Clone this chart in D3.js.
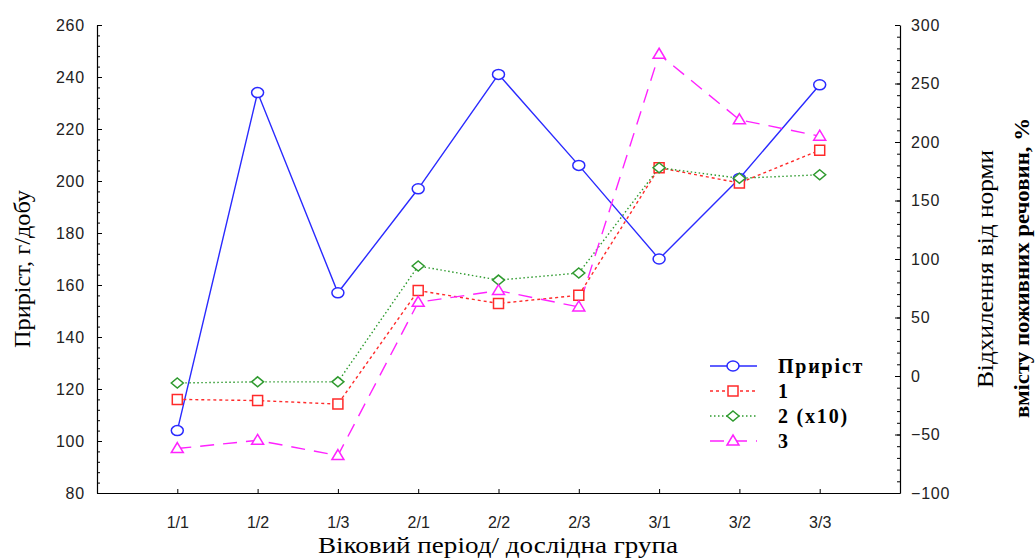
<!DOCTYPE html>
<html lang="uk">
  <head>
    <meta charset="UTF-8" />
    <title>Приріст і відхилення від норми</title>
    <style>
      body { margin: 0; background: #fff; }
      svg { display: block; }
      .tick text { font-family: "Liberation Sans", Arial, sans-serif; font-size: 16px; fill: #222; }
      .ytick .tick text { letter-spacing: 0.8px; }
    </style>
    <script src="https://d3js.org/d3.v7.min.js"></script>
  </head>
  <body>
  <script>
    const categories = ["1/1", "1/2", "1/3", "2/1", "2/2", "2/3", "3/1", "3/2", "3/3"]
    const pryrist = [104, 234, 157, 197, 241, 206, 170, 201, 237]
    const series1 = [-20, -21, -24, 73, 62, 69, 178, 165, 193]
    const series2 = [-6, -5, -5, 94, 82, 88, 178, 169, 172]
    const series3 = [-62, -55, -68, 63, 73, 59, 275, 219, 205]
    const leftTicks = [80, 100, 120, 140, 160, 180, 200, 220, 240, 260]
    const rightTicks = [-100, -50, 0, 50, 100, 150, 200, 250, 300]

    const W = 1036, H = 558
    const plotLeft = 97, plotRight = 900, plotTop = 25, plotBottom = 493

    const svg = d3.select("body").append("svg")
        .attr("width", W).attr("height", H)

    const x = d3.scaleLinear().domain([0, categories.length + 1]).range([plotLeft, plotRight])
    const yL = d3.scaleLinear().domain([80, 260]).range([plotBottom, plotTop])
    const yR = d3.scaleLinear().domain([-100, 300]).range([plotBottom, plotTop])

    const axisStyle = g => {
      g.select(".domain").attr("stroke", "#000").attr("stroke-width", 1.2)
      g.selectAll(".tick line").attr("stroke", "#000")
    }

    // minor ticks (inside the frame)
    svg.append("g").attr("transform", `translate(${plotLeft},0)`)
      .call(d3.axisRight(yL).tickValues(d3.range(80, 261, 4)).tickSize(3).tickFormat(""))
      .call(g => g.select(".domain").remove())
      .selectAll("line").attr("stroke", "#000")
    svg.append("g").attr("transform", `translate(${plotRight},0)`)
      .call(d3.axisLeft(yR).tickValues(d3.range(-100, 301, 10)).tickSize(3).tickFormat(""))
      .call(g => g.select(".domain").remove())
      .selectAll("line").attr("stroke", "#000")

    const gl = svg.append("g").attr("class", "ytick").attr("transform", `translate(${plotLeft},0)`)
      .call(d3.axisLeft(yL).tickValues(leftTicks).tickSize(0).tickSizeOuter(0).tickPadding(12))
      .call(axisStyle)
    gl.selectAll(".tick").append("line").attr("x2", 5).attr("stroke", "#000")

    const gr = svg.append("g").attr("class", "ytick").attr("transform", `translate(${plotRight},0)`)
      .call(d3.axisRight(yR).tickValues(rightTicks).tickSize(0).tickSizeOuter(0).tickPadding(11))
      .call(axisStyle)
    gr.selectAll(".tick").append("line").attr("x2", -5).attr("stroke", "#000")

    const gx = svg.append("g").attr("transform", `translate(0,${plotBottom})`)
      .call(d3.axisBottom(x).tickValues(d3.range(1, categories.length + 1))
        .tickFormat(i => categories[i - 1]).tickSize(0).tickSizeOuter(0).tickPadding(24))
      .call(axisStyle)
    gx.selectAll(".tick").append("line").attr("y2", -4).attr("stroke", "#000")

    // axis titles
    const serif = '"Liberation Serif", "Times New Roman", serif'
    const title = (tx, len, bold) => svg.append("text")
      .attr("transform", tx)
      .attr("text-anchor", "middle")
      .attr("textLength", len)
      .attr("lengthAdjust", "spacingAndGlyphs")
      .style("font-family", serif).style("font-size", "23px")
      .style("font-weight", bold ? "bold" : "normal")

    title("translate(30,269) rotate(-90)", 158).text("Приріст, г/добу")
    title("translate(993,269) rotate(-90)", 238).text("Відхилення від норми")
    title("translate(1029,268) rotate(-90)", 300, true).style("font-size", "21px").text("вмісту поживних речовин, %")
    title("translate(498,553)", 360).text("Віковий період/ дослідна група")

    // series
    const defs = [
      { name: "Приріст", values: pryrist, y: yL, color: "#2a2aff", dash: null, marker: "circle" },
      { name: "1", values: series1, y: yR, color: "#ff2a2a", dash: "3,3", marker: "square" },
      { name: "2 (x10)", values: series2, y: yR, color: "#2e9a2e", dash: "1.5,2.5", marker: "diamond" },
      { name: "3", values: series3, y: yR, color: "#ff22ff", dash: "14,9", marker: "triangle" }
    ]

    const markerPath = {
      circle: "M-6,0 A6,5 0 1,0 6,0 A6,5 0 1,0 -6,0 Z",
      square: "M-5,-5 L5,-5 L5,5 L-5,5 Z",
      diamond: "M0,-5 L6,0 L0,5 L-6,0 Z",
      triangle: "M0,-6 L6,4 L-6,4 Z"
    }

    const line = yS => d3.line().x((d, i) => x(i + 1)).y(d => yS(d))

    defs.forEach(s => {
      svg.append("path")
        .datum(s.values)
        .attr("fill", "none")
        .attr("stroke", s.color)
        .attr("stroke-width", 1.4)
        .attr("stroke-dasharray", s.dash)
        .attr("d", line(s.y))
    })

    defs.forEach(s => {
      svg.selectAll(null)
        .data(s.values)
        .enter().append("path")
        .attr("transform", (d, i) => `translate(${x(i + 1)},${s.y(d)})`)
        .attr("d", markerPath[s.marker])
        .attr("fill", "#fff")
        .attr("stroke", s.color)
        .attr("stroke-width", 1.5)
    })

    // legend
    const legend = svg.append("g").attr("transform", "translate(710,366)")
    defs.forEach((s, i) => {
      const row = legend.append("g").attr("transform", `translate(0,${i * 25})`)
      row.append("line")
        .attr("x1", 0).attr("x2", 47)
        .attr("stroke", s.color).attr("stroke-width", 1.4)
        .attr("stroke-dasharray", s.dash)
      row.append("path")
        .attr("transform", "translate(23,0)")
        .attr("d", markerPath[s.marker])
        .attr("fill", "#fff").attr("stroke", s.color).attr("stroke-width", 1.5)
      row.append("text")
        .attr("x", 68).attr("y", 7)
        .style("font-family", serif).style("font-size", "20px").style("font-weight", "bold")
        .style("letter-spacing", "1.8px")
        .text(s.name)
    })
  </script>
  </body>
</html>
